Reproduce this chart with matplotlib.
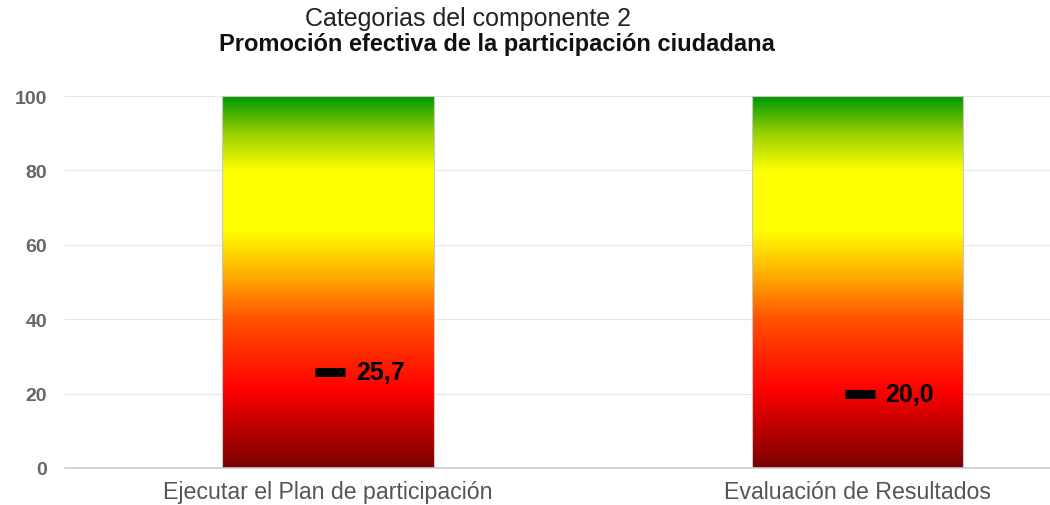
import numpy as np
import matplotlib.pyplot as plt
from matplotlib.colors import LinearSegmentedColormap

# chart data
categories = ['Ejecutar el Plan de participación', 'Evaluación de Resultados']
bar_tops = [100, 100]
scores = [25.7, 20.0]
score_labels = ['25,7', '20,0']
yticks = [0, 20, 40, 60, 80, 100]

plt.rcParams['font.family'] = ['Liberation Sans', 'DejaVu Sans']

# red -> orange -> yellow -> green gradient
cmap = LinearSegmentedColormap.from_list('semaforo', [
    (0.00, '#7a0000'),
    (0.21, '#ff0000'),
    (0.40, '#ff5200'),
    (0.50, '#ffa000'),
    (0.64, '#ffff00'),
    (0.80, '#ffff00'),
    (0.90, '#9ad000'),
    (1.00, '#009900'),
])

fig = plt.figure(figsize=(10.5, 5.06), dpi=100)
ax = fig.add_axes([65 / 1050, 37 / 506, 985 / 1050, 372 / 506])

x = np.arange(len(categories))
width = 0.40
bars = ax.bar(x, bar_tops, width=width, color='none', edgecolor='#c8c8c8', linewidth=0.8, zorder=3)

grad = np.linspace(0, 1, 256).reshape(-1, 1)
for b in bars:
    x0, w, h = b.get_x(), b.get_width(), b.get_height()
    im = ax.imshow(grad, cmap=cmap, origin='lower', aspect='auto',
                   extent=[x0, x0 + w, 0, h], zorder=2)
    im.set_clip_path(b)

# score markers
ax.scatter(x + 0.004, scores, marker='_', s=470, linewidths=6.5, color='black', zorder=4)
for xi, v, lab in zip(x, scores, score_labels):
    ax.annotate(lab, (xi, v), xytext=(20, 0), textcoords='offset points',
                ha='left', va='center', fontsize=18, fontweight='bold', color='black', zorder=5)

ax.set_xlim(-0.4967, 1.3636)
ax.set_ylim(0, 100)
ax.set_yticks(yticks)
ax.set_yticklabels([str(t) for t in yticks], fontsize=14, fontweight='bold', color='#666666')
ax.set_xticks(x)
ax.set_xticklabels(categories, fontsize=16.7, color='#555555')
ax.tick_params(axis='both', length=0)
ax.tick_params(axis='y', pad=13)
ax.tick_params(axis='x', pad=9)
ax.grid(axis='y', color='#e8e8e8', linewidth=0.8, zorder=0)
ax.set_axisbelow(True)
for s in ['top', 'right', 'left']:
    ax.spines[s].set_visible(False)
ax.spines['bottom'].set_color('#cccccc')
ax.spines['bottom'].set_linewidth(1.2)

fig.text(468 / 1050, 1 - 19 / 506, 'Categorias del componente 2', ha='center', va='center',
         fontsize=18, color='#222222')
fig.text(497 / 1050, 1 - 45 / 506, 'Promoción efectiva de la participación ciudadana',
         ha='center', va='center', fontsize=17, fontweight='bold', color='#111111')

fig.savefig('out.png', dpi=100)
